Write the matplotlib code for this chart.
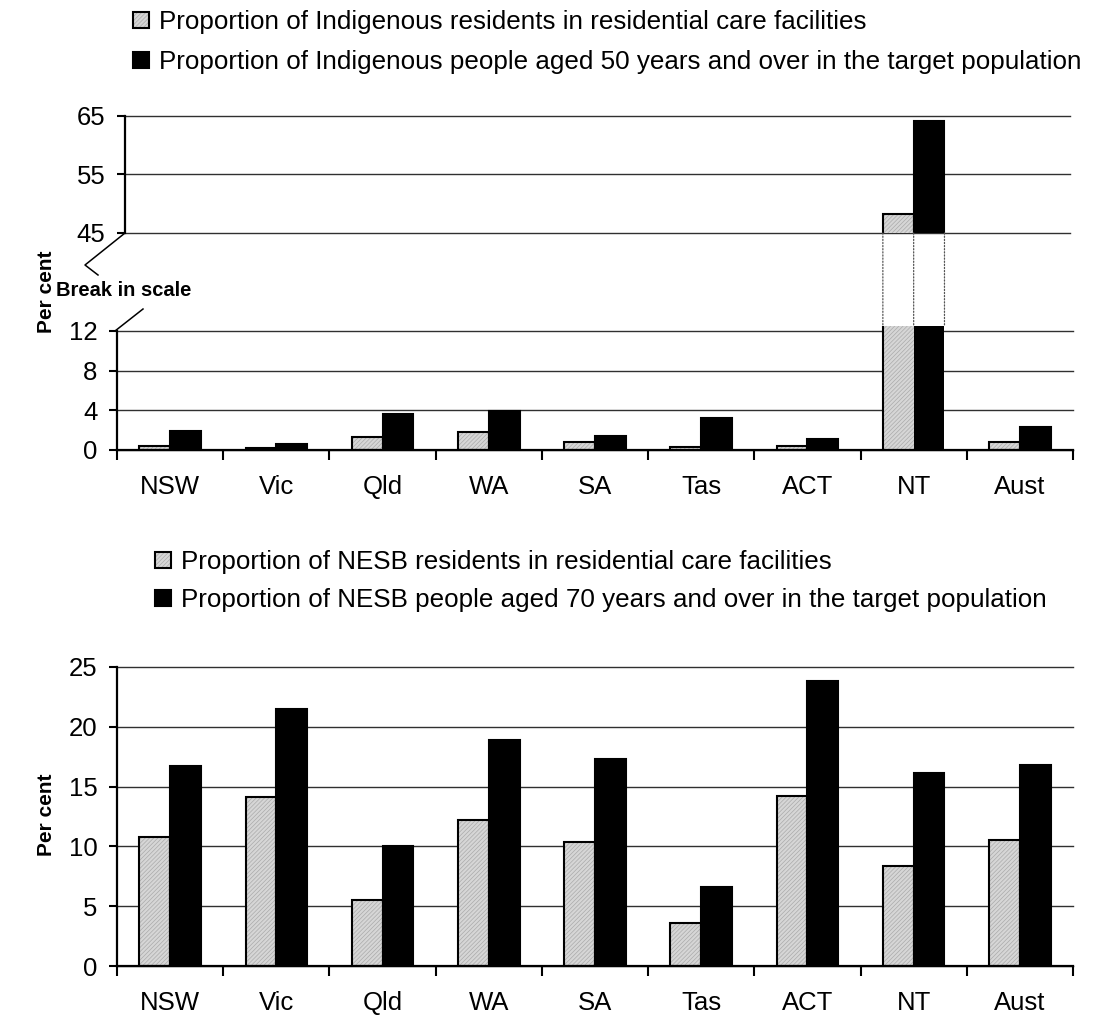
import numpy as np
import matplotlib
matplotlib.use("Agg")
import matplotlib.pyplot as plt
from matplotlib.patches import Patch, ConnectionPatch
from matplotlib.legend_handler import HandlerTuple
from matplotlib.lines import Line2D

plt.rcParams['font.family'] = ['Liberation Sans', 'DejaVu Sans']
plt.rcParams['hatch.linewidth'] = 0.5

categories = ["NSW", "Vic", "Qld", "WA", "SA", "Tas", "ACT", "NT", "Aust"]

indig_residents = [0.4, 0.2, 1.3, 1.8, 0.8, 0.3, 0.4, 48.3, 0.8]
indig_target = [1.9, 0.6, 3.6, 3.9, 1.4, 3.2, 1.1, 64.2, 2.3]

nesb_residents = [10.8, 14.1, 5.5, 12.2, 10.4, 3.6, 14.2, 8.4, 10.5]
nesb_target = [16.7, 21.5, 10.0, 18.9, 17.3, 6.6, 23.8, 16.1, 16.8]

top_upper_ticks = [45, 55, 65]
top_lower_ticks = [0, 4, 8, 12]
bottom_ticks = [0, 5, 10, 15, 20, 25]

leg_top = ["Proportion of Indigenous residents in residential care facilities",
           "Proportion of Indigenous people aged 50 years and over in the target population"]
leg_bot = ["Proportion of NESB residents in residential care facilities",
           "Proportion of NESB people aged 70 years and over in the target population"]

W, H = 1094, 1018
fig = plt.figure(figsize=(W / 100, H / 100), dpi=100)


def ax_at(l, t, r, b):
    return fig.add_axes([l / W, 1 - b / H, (r - l) / W, (b - t) / H])


FS = 18.5
LFS = 18.7
BW = 0.29
GRAY_FACE = '#d6d6d6'
GRAY_HATCH = '#aaaaaa'
HATCH = '////////'
x = np.arange(len(categories))


def style_axis(ax, ticks, show_x=True):
    for s in ['top', 'right']:
        ax.spines[s].set_visible(False)
    ax.spines['left'].set_linewidth(1.6)
    ax.spines['bottom'].set_linewidth(1.6)
    ax.set_yticks(ticks)
    ax.tick_params(axis='y', direction='out', length=6, width=1.5, pad=8, labelsize=FS)
    for t in ticks:
        ax.axhline(t, color='#303030', linewidth=1.0, clip_on=False, zorder=0.5)
    if show_x:
        ax.set_xticks(np.arange(-0.5, len(categories) + 0.5, 1.0))
        ax.set_xticklabels([])
        ax.set_xticks(x, minor=True)
        ax.set_xticklabels(categories, minor=True)
        ax.tick_params(axis='x', which='major', direction='out', length=7, width=1.5)
        ax.tick_params(axis='x', which='minor', length=0, pad=18, labelsize=FS)
    else:
        ax.spines['bottom'].set_visible(False)
        ax.set_xticks([])


def draw_pair(ax, res, tgt, cap=None):
    res = np.asarray(res, float)
    tgt = np.asarray(tgt, float)
    xr = x - BW / 2
    xt = x + BW / 2
    if cap is None:
        ax.bar(xr, res, BW, facecolor=GRAY_FACE, edgecolor=GRAY_HATCH, hatch=HATCH, linewidth=0, zorder=2)
        ax.bar(xr, res, BW, facecolor='none', edgecolor='black', linewidth=1.5, zorder=3)
        ax.bar(xt, tgt, BW, facecolor='black', edgecolor='black', linewidth=1.5, zorder=3)
    else:
        hr = np.minimum(res, cap)
        ht = np.minimum(tgt, cap)
        ax.bar(xr, hr, BW, facecolor=GRAY_FACE, edgecolor=GRAY_HATCH, hatch=HATCH,
               linewidth=0, clip_on=False, zorder=2)
        ax.bar(xt, ht, BW, facecolor='black', edgecolor='none', linewidth=0, clip_on=False, zorder=3)
        for i in range(len(categories)):
            if res[i] <= cap:
                ax.bar(xr[i], hr[i], BW, facecolor='none', edgecolor='black', linewidth=1.5, zorder=3)
            else:
                ax.vlines(xr[i] - BW / 2, 0, cap, color='black', linewidth=1.5, clip_on=False, zorder=3)
            if tgt[i] <= cap:
                ax.bar(xt[i], ht[i], BW, facecolor='black', edgecolor='black', linewidth=1.5, zorder=3)


# ---------- top chart ----------
L0, R0 = 117, 1073
xmin, xmax = -0.5, len(categories) - 0.5
ppu = (R0 - L0) / (xmax - xmin)

ax_lo = ax_at(L0, 331, R0, 450)
ax_lo.set_xlim(xmin, xmax)
ax_lo.set_ylim(0, 12)
style_axis(ax_lo, top_lower_ticks)
draw_pair(ax_lo, indig_residents, indig_target, cap=12.5)

Lu, Ru = 125, 1070
ax_up = ax_at(Lu, 116, Ru, 233)
ax_up.set_xlim(xmin + (Lu - L0) / ppu, xmax - (R0 - Ru) / ppu)
ax_up.set_ylim(45, 65)
style_axis(ax_up, top_upper_ticks, show_x=False)
draw_pair(ax_up, indig_residents, indig_target)

# dotted connectors for the NT bars across the break
nt = categories.index("NT")
for xx in [nt - BW, nt, nt + BW]:
    cp = ConnectionPatch(xyA=(xx, 45), coordsA=ax_up.transData,
                         xyB=(xx, 12.5), coordsB=ax_lo.transData,
                         linestyle=(0, (1, 1.5)), color='#555555', linewidth=0.9)
    fig.add_artist(cp)

# break-in-scale marks
def fig_line(xs, ys):
    fig.add_artist(Line2D([v / W for v in xs], [1 - v / H for v in ys],
                          color='black', linewidth=1.1, transform=fig.transFigure))

fig_line([125, 85, 98], [233, 265, 275])
fig_line([143, 115], [309, 331])
fig.text(124 / W, 1 - 291 / H, "Break in scale", ha='center', va='center',
         fontsize=14.5, fontweight='bold')

fig.text(46 / W, 1 - 292 / H, "Per cent", rotation=90, ha='center', va='center',
         fontsize=15, fontweight='bold')

# ---------- bottom chart ----------
ax_b = ax_at(L0, 667, R0, 966)
ax_b.set_xlim(xmin, xmax)
ax_b.set_ylim(0, 25)
style_axis(ax_b, bottom_ticks)
draw_pair(ax_b, nesb_residents, nesb_target)
fig.text(46 / W, 1 - 815 / H, "Per cent", rotation=90, ha='center', va='center',
         fontsize=15, fontweight='bold')

# ---------- legends ----------
def make_handles():
    g = (Patch(facecolor=GRAY_FACE, edgecolor=GRAY_HATCH, hatch=HATCH, linewidth=0),
         Patch(facecolor='none', edgecolor='black', linewidth=1.5))
    b = Patch(facecolor='black', edgecolor='black', linewidth=1.5)
    return [g, b]


for labels, (lx, ly), sp in [(leg_top, (133, 10), 0.62), (leg_bot, (155, 550), 0.55)]:
    fig.legend(make_handles(), labels, loc='upper left',
               bbox_to_anchor=(lx / W, 1 - ly / H), bbox_transform=fig.transFigure,
               frameon=False, fontsize=LFS, borderpad=0, borderaxespad=0,
               handlelength=0.6, handleheight=0.6, handletextpad=0.4,
               labelspacing=sp, handler_map={tuple: HandlerTuple(ndivide=1, pad=0)})

fig.savefig("out.png", dpi=100)
